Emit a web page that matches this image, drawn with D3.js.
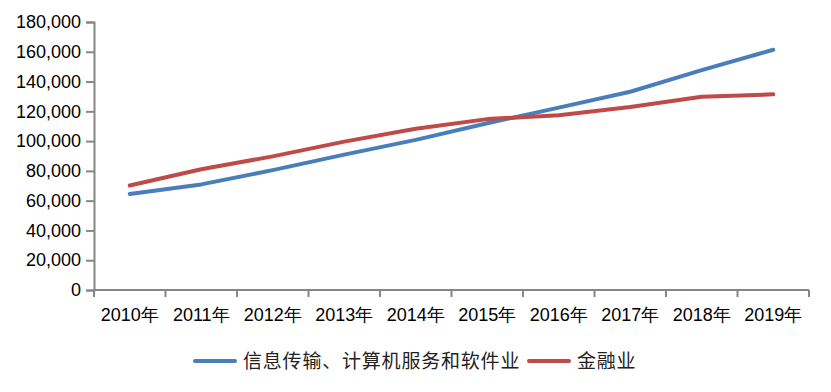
<!DOCTYPE html>
<html>
<head>
<meta charset="utf-8">
<script src="https://cdn.jsdelivr.net/npm/d3@7"></script>
<style>
  body { margin: 0; background: #fff; }
  text { font-family: "Liberation Sans", Arial, sans-serif; fill: #000; }
  .legend text { font-family: "Noto Sans CJK SC", sans-serif; fill: #222; }
</style>
</head>
<body>
<svg id="chart" width="831" height="392"></svg>
<script>
const years = ["2010年", "2011年", "2012年", "2013年", "2014年", "2015年", "2016年", "2017年", "2018年", "2019年"]
const infoValues = [64436, 70918, 80510, 90915, 100845, 112042, 122478, 133150, 147678, 161352]
const financeValues = [70146, 81109, 89743, 99653, 108273, 114777, 117418, 122851, 129837, 131405]
const yTicks = [0, 20000, 40000, 60000, 80000, 100000, 120000, 140000, 160000, 180000]
const seriesNames = ["信息传输、计算机服务和软件业", "金融业"]
const seriesColors = ["#4a7ebb", "#be4b48"]

const svg = d3.select("#chart")
const axisColor = "#868686"

const x = d3.scaleBand().domain(years).range([94, 809])
const y = d3.scaleLinear().domain([0, 180000]).range([290, 22])

// y axis
const yAxis = svg.append("g")
  .attr("transform", "translate(94,0)")
  .call(d3.axisLeft(y).tickValues(yTicks).tickSize(8).tickPadding(5).tickFormat(d3.format(",")))
yAxis.select(".domain").attr("stroke", axisColor).attr("stroke-width", 2)
yAxis.selectAll(".tick line").attr("stroke", axisColor).attr("stroke-width", 2)
yAxis.selectAll("text").attr("font-size", 18).attr("font-family", "Liberation Sans")

// x axis with ticks on the band edges
const xAxis = svg.append("g").attr("transform", "translate(0,290)")
xAxis.append("line")
  .attr("x1", 94).attr("x2", 809)
  .attr("stroke", axisColor).attr("stroke-width", 2)
xAxis.selectAll(".edge")
  .data(years.concat(["end"]))
  .enter()
  .append("line")
  .attr("class", "edge")
  .attr("x1", (d, i) => i < years.length ? x(d) : x.range()[1])
  .attr("x2", (d, i) => i < years.length ? x(d) : x.range()[1])
  .attr("y1", 0).attr("y2", 7)
  .attr("stroke", axisColor).attr("stroke-width", 2)
xAxis.selectAll(".lbl")
  .data(years)
  .enter()
  .append("text")
  .attr("class", "lbl")
  .attr("x", d => x(d) + x.bandwidth() / 2)
  .attr("y", 31)
  .attr("text-anchor", "middle")
  .attr("font-size", 18)
  .text(d => d)

// lines
const line = d3.line()
  .x((d, i) => x(years[i]) + x.bandwidth() / 2)
  .y(d => y(d))

;[infoValues, financeValues].forEach((vals, k) => {
  svg.append("path")
    .datum(vals)
    .attr("fill", "none")
    .attr("stroke", seriesColors[k])
    .attr("stroke-width", 4)
    .attr("stroke-linejoin", "round")
    .attr("stroke-linecap", "round")
    .attr("d", line)
})

// legend
const legend = svg.append("g").attr("class", "legend")
const legendItems = [{ x: 193, name: seriesNames[0], color: seriesColors[0] }, { x: 527, name: seriesNames[1], color: seriesColors[1] }]
legendItems.forEach(it => {
  legend.append("line")
    .attr("x1", it.x + 2).attr("x2", it.x + 42)
    .attr("y1", 361).attr("y2", 361)
    .attr("stroke", it.color).attr("stroke-width", 4)
    .attr("stroke-linecap", "round")
  legend.append("text")
    .attr("x", it.x + 50)
    .attr("y", 368)
    .attr("font-size", 19)
    .attr("letter-spacing", 0.8)
    .text(it.name)
})
</script>
</body>
</html>
